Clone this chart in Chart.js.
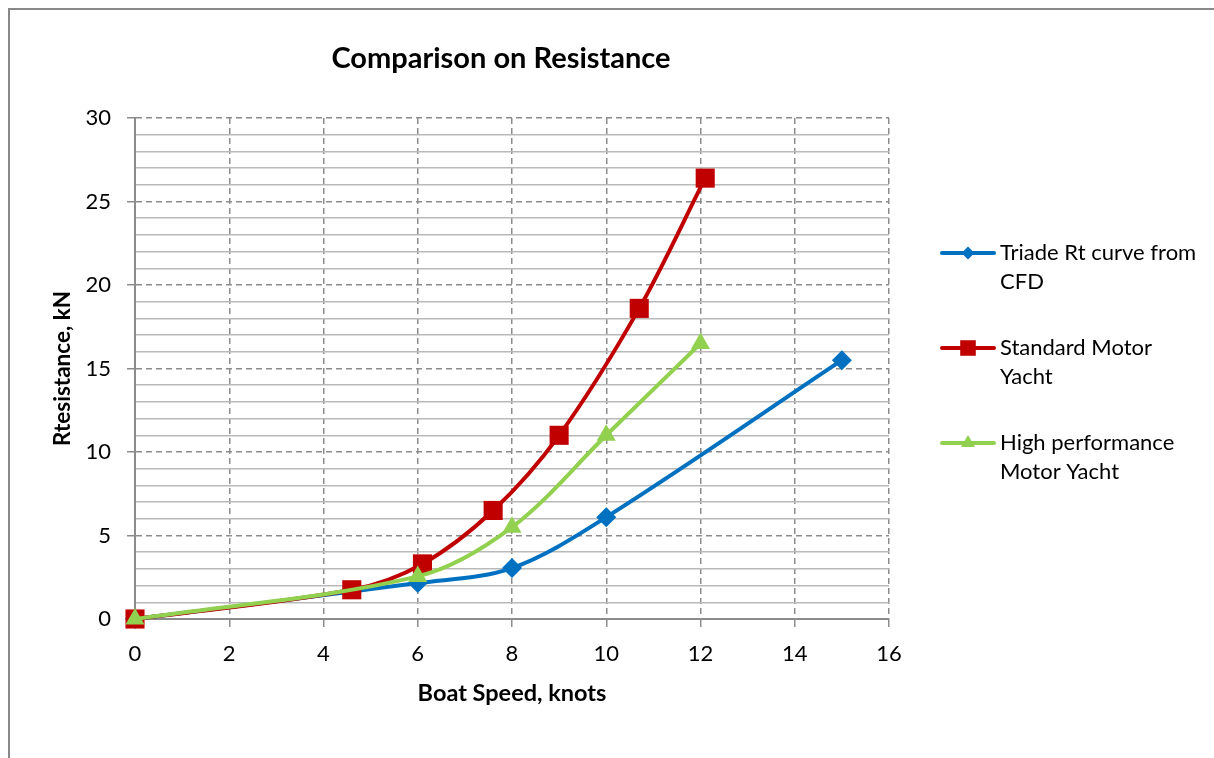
<!DOCTYPE html>
<html>
<head>
<meta charset="utf-8">
<script src="https://cdn.jsdelivr.net/npm/chart.js@4/dist/chart.umd.min.js"></script>
<style>
  html, body { margin: 0; padding: 0; background: #fff; }
  #wrap { position: absolute; left: 0; top: 0; width: 1214px; height: 758px; }
</style>
</head>
<body>
<div id="wrap"><canvas id="c" width="1214" height="758"></canvas></div>
<script>
// ---- data ----
const chartTitle = 'Comparison on Resistance';
const xAxisTitle = 'Boat Speed, knots';
const yAxisTitle = 'Rtesistance, kN';

const seriesNames = ['Triade Rt curve from CFD', 'Standard Motor Yacht', 'High performance Motor Yacht'];
const legendLines = [['Triade Rt curve from', 'CFD'], ['Standard Motor', 'Yacht'], ['High performance', 'Motor Yacht']];

const triadeSpeed = [0, 6, 8, 10, 15];
const triadeRt    = [0, 2.15, 3.05, 6.1, 15.5];

const standardSpeed = [0, 4.6, 6.1, 7.6, 9.0, 10.7, 12.1];
const standardRt    = [0, 1.75, 3.3, 6.5, 11.0, 18.6, 26.4];

const highPerfSpeed = [0, 6, 8, 10, 12];
const highPerfRt    = [0, 2.55, 5.5, 11.0, 16.5];

const xMin = 0, xMax = 16, xStep = 2;
const yMin = 0, yMax = 30, yStep = 5, yMinorStep = 1;

// ---- styles ----
const FONT = 'Lato';
const colors = ['#0070C0', '#C00000', '#92D050'];
const pointStyles = ['rectRot', 'rect', 'triangle'];
const pointRadii = [10, 13.5, 11];
const gridDark = '#8c8c8c';
const gridLight = '#b9b9b9';

function pts(xs, ys) { return xs.map((x, i) => ({ x: x, y: ys[i] })); }

const datasets = [
  { label: seriesNames[0], data: pts(triadeSpeed, triadeRt), order: 3 },
  { label: seriesNames[1], data: pts(standardSpeed, standardRt), order: 2 },
  { label: seriesNames[2], data: pts(highPerfSpeed, highPerfRt), order: 1 }
].map((d, i) => Object.assign(d, {
  borderColor: colors[i],
  backgroundColor: colors[i],
  pointBackgroundColor: colors[i],
  pointBorderColor: colors[i],
  pointBorderWidth: 0,
  pointStyle: pointStyles[i],
  pointRadius: pointRadii[i],
  pointHoverRadius: pointRadii[i],
  borderWidth: 4,
  tension: 0.33,
  fill: false,
  clip: false
}));

const framePlugin = {
  id: 'frame',
  beforeDraw(chart) {
    const ctx = chart.ctx;
    ctx.save();
    ctx.fillStyle = '#ffffff';
    ctx.fillRect(0, 0, chart.width, chart.height);
    ctx.strokeStyle = '#888888';
    ctx.lineWidth = 2;
    ctx.beginPath();
    ctx.moveTo(9, chart.height);
    ctx.lineTo(9, 9);
    ctx.lineTo(chart.width, 9);
    ctx.stroke();
    ctx.restore();
  },
  afterDraw(chart) {
    const ctx = chart.ctx;
    ctx.save();
    // title
    ctx.fillStyle = '#000';
    ctx.font = 'bold 29px ' + FONT;
    ctx.textAlign = 'center';
    ctx.textBaseline = 'middle';
    ctx.fillText(chartTitle, 501, 59);
    // legend
    const legendY = [253, 348, 443];
    chart.data.datasets.forEach((ds, i) => {
      const y = legendY[i];
      ctx.strokeStyle = ds.borderColor;
      ctx.lineWidth = 4;
      ctx.lineCap = 'round';
      ctx.beginPath();
      ctx.moveTo(942, y);
      ctx.lineTo(994, y);
      ctx.stroke();
      ctx.fillStyle = ds.backgroundColor;
      const r = i === 0 ? 6.5 : (i === 1 ? 11 : 8);
      Chart.helpers.drawPoint(ctx, { pointStyle: ds.pointStyle, rotation: 0, radius: r, borderWidth: 0 }, 968, y);
      ctx.fillStyle = '#000';
      ctx.font = '22px ' + FONT;
      ctx.textAlign = 'left';
      ctx.textBaseline = 'middle';
      legendLines[i].forEach((t, j) => ctx.fillText(t, 1000, y + j * 29));
    });
    ctx.restore();
  }
};

Chart.defaults.font.family = FONT;
Chart.defaults.color = '#000';

new Chart(document.getElementById('c'), {
  type: 'line',
  data: { datasets: datasets },
  plugins: [framePlugin],
  options: {
    responsive: false,
    animation: false,
    devicePixelRatio: 1,
    layout: { padding: { left: 0, right: 325, top: 118, bottom: 0 } },
    plugins: {
      legend: { display: false },
      title: { display: false },
      tooltip: { enabled: false }
    },
    scales: {
      x: {
        type: 'linear',
        position: 'bottom',
        min: xMin, max: xMax,
        ticks: { stepSize: xStep, font: { size: 22, family: FONT }, color: '#000', padding: 14 },
        grid: { color: gridDark, lineWidth: 1.5, tickLength: 8, tickColor: gridDark, tickBorderDash: [], tickWidth: 1.5 },
        border: { display: true, color: gridDark, width: 2, dash: [6, 4] },
        title: { display: true, text: xAxisTitle, font: { size: 23.5, weight: 'bold', family: FONT }, color: '#000', padding: { top: 0, bottom: 50 } },
        afterFit(scale) { scale.height = 139; }
      },
      yMinor: {
        type: 'linear',
        position: 'left',
        min: yMin, max: yMax,
        ticks: { stepSize: yMinorStep, display: false, autoSkip: false },
        grid: {
          drawTicks: false,
          lineWidth: 1.5,
          color: (c) => (c.tick && Math.round(c.tick.value) % yStep === 0) ? 'rgba(0,0,0,0)' : gridLight
        },
        border: { display: false },
        afterFit(scale) { scale.width = 0; }
      },
      y: {
        type: 'linear',
        position: 'left',
        min: yMin, max: yMax,
        ticks: { stepSize: yStep, font: { size: 22, family: FONT }, color: '#000', padding: 16 },
        grid: { color: gridDark, lineWidth: 1.5, tickLength: 8, tickColor: gridDark, tickBorderDash: [], tickWidth: 1.5 },
        border: { display: true, color: gridDark, width: 2, dash: [6, 4] },
        title: { display: true, text: yAxisTitle, font: { size: 22.5, weight: 'bold', family: FONT }, color: '#000', padding: { top: 49, bottom: 0 } },
        afterFit(scale) { scale.width = 135; }
      }
    }
  }
});
</script>
</body>
</html>
